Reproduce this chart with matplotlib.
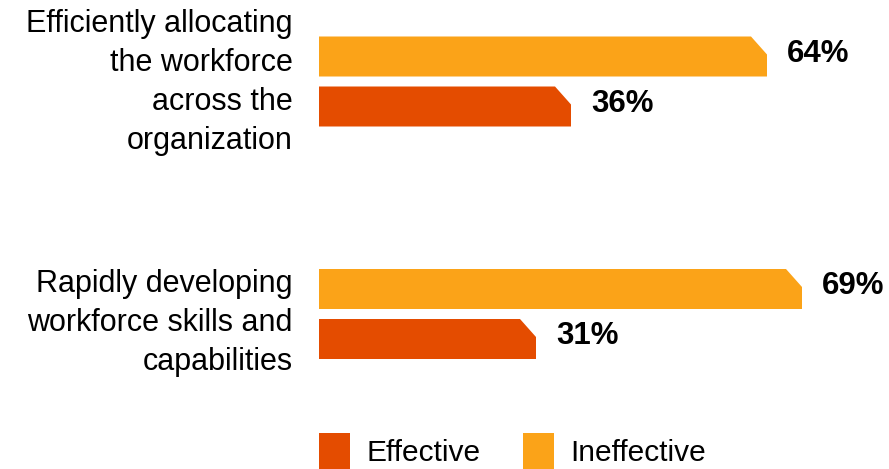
import matplotlib
matplotlib.use("Agg")
import matplotlib.pyplot as plt
from matplotlib.patches import Polygon, Patch
from matplotlib.transforms import ScaledTranslation

plt.rcParams['font.family'] = ['Liberation Sans', 'DejaVu Sans']

categories = ["Efficiently allocating\nthe workforce\nacross the\norganization",
              "Rapidly developing\nworkforce skills and\ncapabilities"]
ineffective = [64, 69]
effective = [36, 31]
series_names = ["Effective", "Ineffective"]

c_eff = '#E44C00'
c_ineff = '#FBA318'

W, H = 889, 469
fig = plt.figure(figsize=(W / 100, H / 100), dpi=100)
# axes: x from 319px to right edge, y full height
ax = fig.add_axes([319 / W, 0, 1 - 319 / W, 1])
px_per_unit = 7.0
ax.set_xlim(0, (W - 319) / px_per_unit)
grp = 232.5  # px between group centres
ax.set_ylim((H - 81.5) / grp, -81.5 / grp)

bh = 40 / grp
off = 25 / grp
cw = 16 / px_per_unit  # chamfer width (data units)
chh = 18 / grp         # chamfer height


def chamfer_bar(y, v, color):
    top, bot = y - bh / 2, y + bh / 2
    pts = [(0, top), (v - cw, top), (v, top + chh), (v, bot), (0, bot)]
    ax.add_patch(Polygon(pts, closed=True, facecolor=color, edgecolor='none'))
    ax.text(v + 20 / px_per_unit, y - 3 / grp, f"{v}%", va='center', ha='left',
            fontsize=22.5, fontweight='bold', color='black')


for i in range(len(categories)):
    chamfer_bar(i - off, ineffective[i], c_ineff)
    chamfer_bar(i + off, effective[i], c_eff)

ax.set_yticks(range(len(categories)))
ax.set_yticklabels(categories, fontsize=22, linespacing=1.4, va='center')
ax.tick_params(axis='y', length=0, pad=19)
ax.set_xticks([])
for s in ax.spines.values():
    s.set_visible(False)

# small vertical nudges (px, downward) so labels sit like the original
for lbl, dy in zip(ax.get_yticklabels(), [1, 9]):
    lbl.set_transform(lbl.get_transform() + ScaledTranslation(0, -dy / 100, fig.dpi_scale_trans))

handles = [Patch(facecolor=c_eff, edgecolor='none'),
           Patch(facecolor=c_ineff, edgecolor='none')]
fig.legend(handles, series_names, loc='lower left',
           bbox_to_anchor=(319 / W, 0.0), ncol=2, frameon=False,
           fontsize=21.5, handlelength=1.05, handleheight=1.5,
           handletextpad=0.55, columnspacing=1.4, borderpad=0,
           borderaxespad=0)

fig.savefig("out.png", dpi=100)
